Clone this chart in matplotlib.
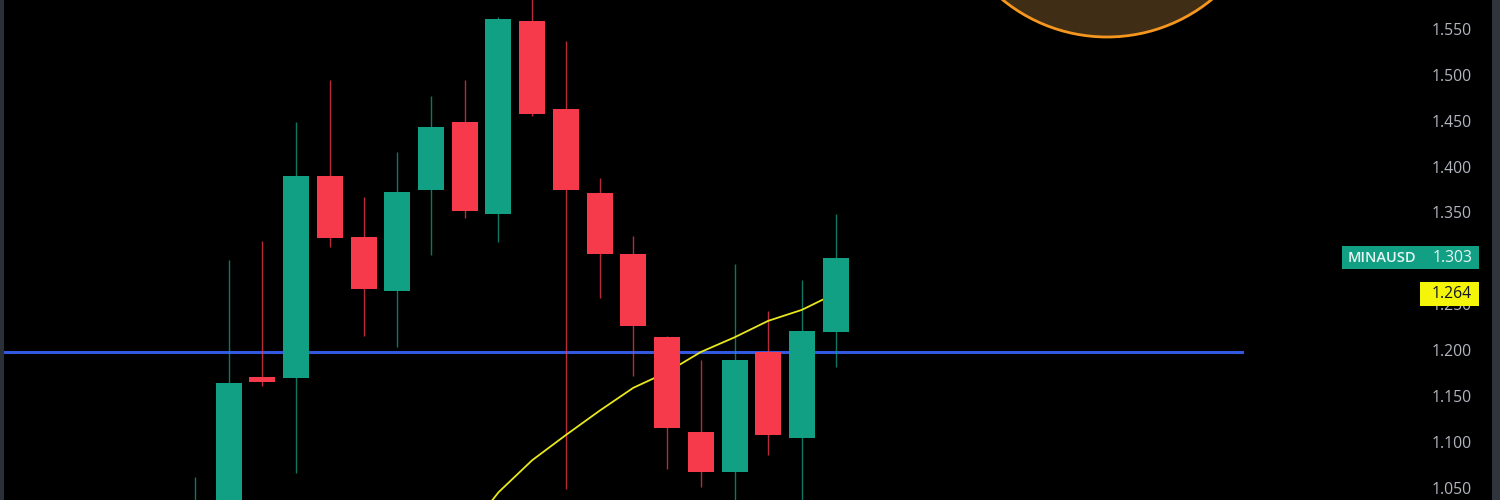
import matplotlib.pyplot as plt
from matplotlib.patches import Ellipse, Rectangle
from matplotlib.transforms import blended_transform_factory

# -----------------------------
# Datos (velas MINAUSD)
# -----------------------------
opens  = [0.990, 1.010, 1.173, 1.172, 1.392, 1.325, 1.266, 1.377, 1.451, 1.351,
          1.5605, 1.465, 1.373, 1.307, 1.216, 1.113, 1.0688, 1.2003, 1.106, 1.2218]
highs  = [1.064, 1.300, 1.321, 1.451, 1.497, 1.369, 1.418, 1.479, 1.497, 1.565,
          1.600, 1.539, 1.390, 1.327, 1.217, 1.191, 1.2956, 1.245, 1.2785, 1.350]
lows   = [0.960, 0.990, 1.163, 1.068, 1.315, 1.217, 1.206, 1.306, 1.346, 1.320,
          1.457, 1.051, 1.259, 1.174, 1.072, 1.053, 1.020, 1.0877, 1.030, 1.184]
closes = [1.030, 1.166, 1.167, 1.392, 1.324, 1.269, 1.3745, 1.445, 1.354, 1.563,
          1.4595, 1.377, 1.307, 1.228, 1.117, 1.0695, 1.191, 1.1095, 1.223, 1.303]

# media móvil (amarilla), desde la vela 8
ma_start = 8
ma_vals = [1.000, 1.047, 1.082, 1.1095, 1.136, 1.161, 1.178, 1.200, 1.216, 1.234, 1.246, 1.264]

level = 1.200           # línea horizontal azul
last_price = 1.303
ma_last = 1.264
ticker = "MINAUSD"
price_ticks = [1.050, 1.100, 1.150, 1.200, 1.250, 1.350, 1.400, 1.450, 1.500, 1.550]

# -----------------------------
# Estilo
# -----------------------------
UP = "#12a085"
DOWN = "#f7394c"
BG = "#000000"
plt.rcParams['font.family'] = ['Open Sans', 'DejaVu Sans']

W, H = 1500, 500
step = 33.72            # px por vela
x0_px = 195             # px de la vela 0
xmin = -x0_px / step
xmax = xmin + W / step
ymin, ymax = 1.0386, 1.5839

fig = plt.figure(figsize=(15, 5), dpi=100, facecolor=BG)
ax = fig.add_axes([0, 0, 1, 1])
ax.set_facecolor(BG)
ax.set_xlim(xmin, xmax)
ax.set_ylim(ymin, ymax)
ax.axis('off')

# Velas
body_w = 0.77
for i, (o, h, l, c) in enumerate(zip(opens, highs, lows, closes)):
    col = UP if c >= o else DOWN
    ax.plot([i, i], [l, h], color=col, lw=1, alpha=0.75, zorder=2, solid_capstyle='butt')
    lo, hi = min(o, c), max(o, c)
    ax.add_patch(Rectangle((i - body_w / 2, lo), body_w, max(hi - lo, 0.004),
                           facecolor=col, edgecolor='none', zorder=3))

# Media móvil (por debajo de los cuerpos)
ax.plot(range(ma_start, ma_start + len(ma_vals)), ma_vals, color="#e8e81a", lw=1.3, zorder=2.5)

# Línea horizontal azul
ax.axhline(level, xmin=5 / W, xmax=1242 / W, color="#3358e0", lw=2.2, zorder=1)

# Círculo naranja (dibujo en la parte superior)
cx = xmin + 1107 / W * (xmax - xmin)
r_px = 165
cy = ymax - (-128) / H * (ymax - ymin)
ax.add_patch(Ellipse((cx, cy), 2 * r_px / W * (xmax - xmin), 2 * r_px / H * (ymax - ymin),
                     facecolor="#3f2d15", edgecolor="#f5961e", lw=2, zorder=1))

# Escala de precios
fs = 11.3
tr = blended_transform_factory(ax.transAxes, ax.transData)
for p in price_ticks:
    ax.text(1472 / W, p, f"{p:.3f}", transform=tr, ha='right', va='center',
            color="#b2b5be", fontsize=fs, zorder=5)

# Etiqueta del último precio
ax.add_patch(Rectangle((1342 / W, last_price - 0.0128), 137 / W, 0.0256, transform=tr,
                       facecolor=UP, edgecolor='none', zorder=6))
ax.text(1348 / W, last_price, ticker, transform=tr, ha='left', va='center',
        color="#e8f5f2", fontsize=10.5, fontweight='semibold', zorder=7)
ax.text(1472 / W, last_price, f"{last_price:.3f}", transform=tr, ha='right', va='center',
        color="#e8f5f2", fontsize=fs, zorder=7)

# Etiqueta de la media móvil
ma_y = ma_last - 0.0005
ax.add_patch(Rectangle((1420 / W, ma_y - 0.0131), 59 / W, 0.0262, transform=tr,
                       facecolor="#f5f50a", edgecolor='none', zorder=6))
ax.text(1472 / W, ma_y, f"{ma_last:.3f}", transform=tr, ha='right', va='center',
        color="#131722", fontsize=fs, zorder=7)

# Bordes grises
fig.add_artist(Rectangle((0, 0), 4 / W, 1, transform=fig.transFigure,
                         facecolor="#2a2f38", edgecolor='none'))
fig.add_artist(Rectangle((1492 / W, 0), 8 / W, 1, transform=fig.transFigure,
                         facecolor="#2f343d", edgecolor='none'))

fig.savefig("out.png", dpi=100, facecolor=BG)
